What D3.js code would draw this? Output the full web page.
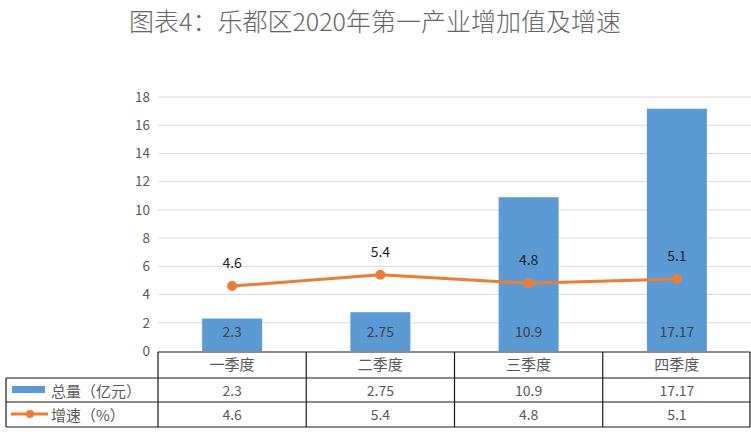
<!DOCTYPE html>
<html>
<head>
<meta charset="utf-8">
<script src="https://cdn.jsdelivr.net/npm/d3@7"></script>
<style>
  html, body { margin: 0; padding: 0; background: #fff; }
  svg { display: block; font-family: "Noto Sans CJK SC", "Noto Sans", sans-serif; }
</style>
</head>
<body>
<svg width="751" height="436"></svg>
<script>
const categories = ["一季度", "二季度", "三季度", "四季度"];
const totalValues = [2.3, 2.75, 10.9, 17.17];   // 总量（亿元）
const growthValues = [4.6, 5.4, 4.8, 5.1];      // 增速（%）
const yTicks = [0, 2, 4, 6, 8, 10, 12, 14, 16, 18];
const seriesNames = ["总量（亿元）", "增速（%）"];
const titleText = "图表4：乐都区2020年第一产业增加值及增速";

const svg = d3.select("svg");
const blue = "#5b9bd5";
const orange = "#ed7d31";

const plotLeft = 158, plotRight = 751;
const x = d3.scaleBand().domain(categories).range([plotLeft, plotRight]);
const y = d3.scaleLinear().domain([0, 18]).range([351, 97]);
const barW = 60;

// title
svg.append("text")
  .attr("x", 375)
  .attr("y", 31)
  .attr("text-anchor", "middle")
  .attr("font-size", 25)
  .attr("font-weight", 300)
  .attr("fill", "#666")
  .text(titleText);

// grid
svg.append("g")
  .selectAll("line")
  .data(yTicks.filter(t => t > 0))
  .join("line")
  .attr("x1", plotLeft)
  .attr("x2", plotRight)
  .attr("y1", d => y(d))
  .attr("y2", d => y(d))
  .attr("stroke", "#d9d9d9")
  .attr("stroke-width", 1);

// y axis
const yAxis = svg.append("g")
  .attr("transform", `translate(${plotLeft - 8},0)`)
  .call(d3.axisLeft(y).tickValues(yTicks).tickSize(0).tickPadding(0));
yAxis.select(".domain").remove();
yAxis.selectAll("text")
  .attr("font-size", 13.5)
  .attr("fill", "#595959")
  .attr("font-family", "\"Noto Sans CJK SC\", sans-serif");

// bars
svg.append("g")
  .selectAll("rect")
  .data(totalValues)
  .join("rect")
  .attr("x", (d, i) => x(categories[i]) + (x.bandwidth() - barW) / 2)
  .attr("y", d => y(d))
  .attr("width", barW)
  .attr("height", d => y(0) - y(d))
  .attr("fill", blue);

svg.append("g")
  .selectAll("text")
  .data(totalValues)
  .join("text")
  .attr("x", (d, i) => x(categories[i]) + x.bandwidth() / 2)
  .attr("y", 337)
  .attr("text-anchor", "middle")
  .attr("font-size", 14)
  .attr("fill", "#404040")
  .text(d => d);

// growth line
const cx = i => x(categories[i]) + x.bandwidth() / 2;
const line = d3.line()
  .x((d, i) => cx(i))
  .y(d => y(d));

svg.append("path")
  .datum(growthValues)
  .attr("d", line)
  .attr("fill", "none")
  .attr("stroke", orange)
  .attr("stroke-width", 3)
  .attr("stroke-linejoin", "round");

svg.append("g")
  .selectAll("circle")
  .data(growthValues)
  .join("circle")
  .attr("cx", (d, i) => cx(i))
  .attr("cy", d => y(d))
  .attr("r", 5)
  .attr("fill", orange);

svg.append("g")
  .selectAll("text")
  .data(growthValues)
  .join("text")
  .attr("x", (d, i) => cx(i))
  .attr("y", d => y(d) - 18)
  .attr("text-anchor", "middle")
  .attr("font-size", 14)
  .attr("fill", "#1f1f1f")
  .text(d => d);

// data table
const rowTop = [352, 378, 402];
const rowBottom = 427;
const tableLeft = 6;
const table = svg.append("g")
  .attr("stroke", "#1a1a1a")
  .attr("stroke-width", 1.2)
  .attr("fill", "none");

// horizontal lines
table.append("line").attr("x1", plotLeft).attr("x2", plotRight - 1).attr("y1", rowTop[0]).attr("y2", rowTop[0]);
[rowTop[1], rowTop[2], rowBottom].forEach(yy => {
  table.append("line").attr("x1", tableLeft).attr("x2", plotRight - 1).attr("y1", yy).attr("y2", yy);
});
// vertical lines
table.append("line").attr("x1", tableLeft).attr("x2", tableLeft).attr("y1", rowTop[1]).attr("y2", rowBottom);
categories.forEach(c => {
  table.append("line").attr("x1", x(c)).attr("x2", x(c)).attr("y1", rowTop[0]).attr("y2", rowBottom);
});
table.append("line").attr("x1", plotRight - 1).attr("x2", plotRight - 1).attr("y1", rowTop[0]).attr("y2", rowBottom);

// header row
svg.append("g")
  .selectAll("text")
  .data(categories)
  .join("text")
  .attr("x", c => x(c) + x.bandwidth() / 2)
  .attr("y", 370)
  .attr("text-anchor", "middle")
  .attr("font-size", 15)
  .attr("fill", "#595959")
  .text(c => c);

[totalValues, growthValues].forEach((vals, r) => {
  svg.append("g")
    .selectAll("text")
    .data(vals)
    .join("text")
    .attr("x", (d, i) => cx(i))
    .attr("y", rowTop[r + 1] + 18)
    .attr("text-anchor", "middle")
    .attr("font-size", 14)
    .attr("fill", "#595959")
    .text(d => d);
});

// legend keys
svg.append("rect")
  .attr("x", 12).attr("y", 386).attr("width", 33).attr("height", 7)
  .attr("fill", blue);
svg.append("line")
  .attr("x1", 11).attr("x2", 48).attr("y1", 414).attr("y2", 414)
  .attr("stroke", orange).attr("stroke-width", 3);
svg.append("circle")
  .attr("cx", 30).attr("cy", 414).attr("r", 4)
  .attr("fill", orange);

svg.append("g")
  .selectAll("text")
  .data(seriesNames)
  .join("text")
  .attr("x", 51)
  .attr("y", (d, i) => rowTop[i + 1] + 19)
  .attr("font-size", 15)
  .attr("fill", "#595959")
  .text(d => d);
</script>
</body>
</html>
